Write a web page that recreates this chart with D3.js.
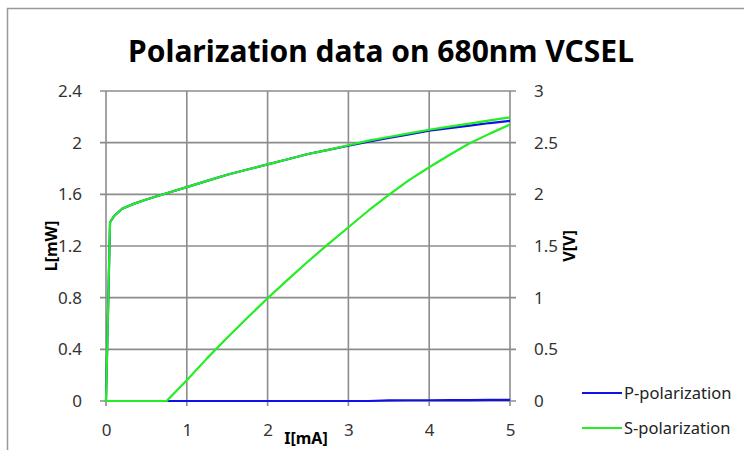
<!DOCTYPE html>
<html>
<head>
<meta charset="utf-8">
<script src="https://cdn.jsdelivr.net/npm/d3@7"></script>
<style>
  body { margin: 0; background: #fff; }
  text { font-family: "Noto Sans", "Open Sans", sans-serif; }
</style>
</head>
<body>
<svg width="744" height="450"></svg>
<script>
// current in mA
var current = [0, 0.05, 0.1, 0.2, 0.35, 0.5, 0.75, 1, 1.25, 1.5, 1.75, 2, 2.25, 2.5, 2.75,
  3, 3.25, 3.5, 3.75, 4, 4.25, 4.5, 4.75, 5];
// voltage, right axis
var voltP = [0, 1.73, 1.79, 1.86, 1.91, 1.95, 2.01, 2.07, 2.13, 2.19, 2.24, 2.29, 2.34, 2.39, 2.43,
  2.47, 2.51, 2.545, 2.58, 2.615, 2.64, 2.665, 2.69, 2.71];
var voltS = [0, 1.73, 1.79, 1.86, 1.91, 1.95, 2.01, 2.07, 2.13, 2.19, 2.24, 2.29, 2.34, 2.39, 2.43,
  2.475, 2.52, 2.555, 2.59, 2.625, 2.655, 2.685, 2.715, 2.745];
// light output, left axis
var lightP = [0, 0, 0, 0, 0, 0, 0, 0, 0, 0, 0, 0, 0, 0, 0,
  0, 0, 0.005, 0.006, 0.006, 0.007, 0.007, 0.008, 0.008];
var lightS = [0, 0, 0, 0, 0, 0, 0, 0.16, 0.33, 0.49, 0.645, 0.795, 0.94, 1.08, 1.215,
  1.345, 1.475, 1.595, 1.71, 1.81, 1.905, 1.995, 2.07, 2.14];

var xTicks = [0, 1, 2, 3, 4, 5];
var lTicks = [0, 0.4, 0.8, 1.2, 1.6, 2, 2.4];
var vTicks = [0, 0.5, 1, 1.5, 2, 2.5, 3];
var seriesNames = ['P-polarization', 'S-polarization'];
var colors = ['#1010e8', '#22ee22'];

var svg = d3.select('svg');
var pLeft = 106, pRight = 510, pTop = 91, pBottom = 401;

var x = d3.scaleLinear().domain([0, 5]).range([pLeft, pRight]);
var yL = d3.scaleLinear().domain([0, 2.4]).range([pBottom, pTop]);
var yV = d3.scaleLinear().domain([0, 3]).range([pBottom, pTop]);

// frame (cropped)
svg.append('path').attr('d', 'M7.5,450 L7.5,8.5 L744,8.5')
  .attr('fill', 'none').attr('stroke', '#999').attr('stroke-width', 1.5);

svg.append('text').attr('x', 381).attr('y', 62).attr('text-anchor', 'middle')
  .attr('font-size', 30).attr('font-weight', 'bold').attr('fill', '#000')
  .text('Polarization data on 680nm VCSEL');

// gridlines
var grid = svg.append('g').attr('stroke', '#8c8c8c').attr('stroke-width', 1.6);
grid.selectAll('.gx').data(xTicks).enter().append('line')
  .attr('x1', function(d) { return x(d); }).attr('x2', function(d) { return x(d); })
  .attr('y1', pTop).attr('y2', pBottom + 5);
grid.selectAll('.gy').data(lTicks).enter().append('line')
  .attr('x1', pLeft - 6).attr('x2', pRight + 6)
  .attr('y1', function(d) { return yL(d); }).attr('y2', function(d) { return yL(d); });

var tickStyle = function(g) {
  g.select('.domain').remove();
  g.selectAll('.tick line').remove();
  g.selectAll('text').attr('font-size', 17).attr('fill', '#333')
    .style('font-family', '"Noto Sans", sans-serif');
};

svg.append('g').attr('transform', 'translate(0,' + pBottom + ')')
  .call(d3.axisBottom(x).tickValues(xTicks).tickFormat(d3.format('d')).tickPadding(17))
  .call(tickStyle);
svg.append('g').attr('transform', 'translate(' + pLeft + ',0)')
  .call(d3.axisLeft(yL).tickValues(lTicks).tickFormat(function(d) { return String(d); }).tickPadding(18))
  .call(tickStyle);
svg.append('g').attr('transform', 'translate(' + pRight + ',0)')
  .call(d3.axisRight(yV).tickValues(vTicks).tickFormat(function(d) { return String(d); }).tickPadding(18))
  .call(tickStyle);

// axis titles
svg.append('text').attr('transform', 'translate(57,246) rotate(-90)').attr('text-anchor', 'middle')
  .attr('font-size', 16).attr('font-weight', 'bold').text('L[mW]');
svg.append('text').attr('transform', 'translate(575,246) rotate(-90)').attr('text-anchor', 'middle')
  .attr('font-size', 16).attr('font-weight', 'bold').text('V[V]');
svg.append('text').attr('x', 306).attr('y', 444).attr('text-anchor', 'middle')
  .attr('font-size', 16).attr('font-weight', 'bold').text('I[mA]');

var lineL = d3.line().x(function(d, i) { return x(current[i]); }).y(function(d) { return yL(d); });
var lineV = d3.line().x(function(d, i) { return x(current[i]); }).y(function(d) { return yV(d); });

var curves = [
  { d: lineV(voltP), c: colors[0] },
  { d: lineL(lightP), c: colors[0] },
  { d: lineV(voltS), c: colors[1] },
  { d: lineL(lightS), c: colors[1] }
];
svg.selectAll('.curve').data(curves).enter().append('path')
  .attr('class', 'curve')
  .attr('d', function(d) { return d.d; })
  .attr('fill', 'none').attr('stroke', function(d) { return d.c; })
  .attr('stroke-width', 2.2).attr('stroke-linejoin', 'round');

// legend
var leg = svg.selectAll('.leg').data(seriesNames).enter().append('g')
  .attr('transform', function(d, i) { return 'translate(582,' + (393 + i * 35) + ')'; });
leg.append('line').attr('x1', 0).attr('x2', 40)
  .attr('stroke', function(d, i) { return colors[i]; }).attr('stroke-width', 2);
leg.append('text').attr('x', 42).attr('y', 6).attr('font-size', 16.5).attr('fill', '#222')
  .text(function(d) { return d; });
</script>
</body>
</html>
